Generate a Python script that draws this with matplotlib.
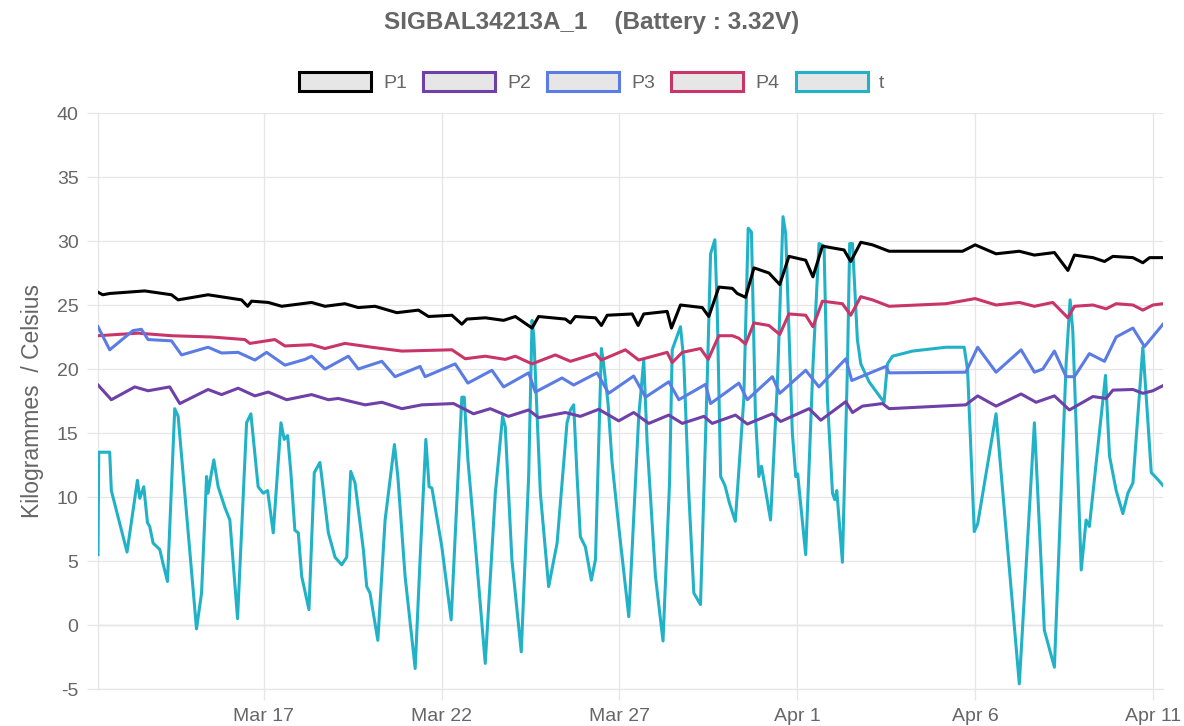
#!/usr/bin/env python3
# Courbes capteur SIGBAL34213A_1 : pressions P1..P4 et temperature t

import matplotlib
matplotlib.use('Agg')
import matplotlib.pyplot as plt
from matplotlib.patches import Patch
import pandas as pd

START = pd.Timestamp('2019-03-12 00:00')

# heures depuis START
p1_h = [8.0, 11.2, 15.9, 39.5, 57.6, 62.1, 82.3, 104.9, 109.0, 111.7, 122.9, 132.0,
        152.2, 161.2, 174.7, 183.7, 195.0, 209.7, 224.3, 231.1, 246.9, 253.6, 257.0,
        269.4, 281.8, 289.7, 301.0, 305.4, 323.5, 326.9, 330.2, 343.8, 347.8, 351.7,
        368.6, 372.6, 376.4, 392.2, 395.1, 401.2, 415.9, 420.3, 427.1, 436.2, 439.5,
        445.1, 450.8, 460.9, 468.2, 474.4, 485.7, 490.6, 497.0, 511.6, 516.1, 522.9,
        530.8, 542.0, 591.6, 600.1, 614.2, 629.9, 640.1, 653.6, 662.7, 667.1, 679.6,
        687.4, 693.1, 706.6, 713.3, 717.8, 726.9]
p1_v = [26.0, 25.8, 25.9, 26.1, 25.8, 25.4, 25.8, 25.4, 24.9, 25.3, 25.2, 24.9,
        25.2, 24.9, 25.1, 24.8, 24.9, 24.4, 24.6, 24.1, 24.2, 23.5, 23.9,
        24.0, 23.8, 24.1, 23.2, 24.1, 23.9, 23.6, 24.1, 24.0, 23.4, 24.2,
        24.3, 23.4, 24.3, 24.5, 23.2, 25.0, 24.8, 24.1, 26.4, 26.3, 25.9,
        25.6, 27.9, 27.5, 26.6, 28.8, 28.5, 27.2, 29.6, 29.3, 28.4, 29.9,
        29.7, 29.2, 29.2, 29.7, 29.0, 29.2, 28.9, 29.1, 27.7, 28.9, 28.7,
        28.4, 28.8, 28.7, 28.3, 28.7, 28.7]

p2_h = [8.0, 17.0, 32.8, 41.8, 56.4, 63.2, 82.3, 91.4, 102.6, 113.9, 122.9, 135.3,
        152.2, 163.5, 170.2, 188.3, 199.6, 213.1, 226.6, 248.0, 261.5, 272.8, 285.1,
        298.7, 305.4, 323.5, 333.6, 346.0, 359.5, 369.6, 379.8, 393.3, 402.4, 417.0,
        422.6, 438.3, 446.3, 463.2, 468.8, 488.0, 495.9, 512.8, 517.3, 524.0, 537.6,
        542.0, 593.8, 601.8, 614.2, 631.1, 641.2, 653.6, 663.7, 679.6, 688.5, 693.1,
        706.6, 713.3, 720.1, 726.9]
p2_v = [18.75, 17.6, 18.6, 18.3, 18.6, 17.3, 18.4, 18.0, 18.5, 17.9, 18.2, 17.6,
        18.0, 17.6, 17.7, 17.2, 17.4, 16.9, 17.2, 17.3, 16.5, 16.9, 16.3,
        16.8, 16.2, 16.6, 16.3, 16.85, 15.95, 16.6, 15.75, 16.4, 15.75, 16.3,
        15.75, 16.4, 15.7, 16.5, 15.9, 16.9, 16.0, 17.45, 16.6, 17.1, 17.3,
        16.9, 17.2, 17.9, 17.1, 18.05, 17.4, 17.9, 16.8, 17.85, 17.7, 18.35,
        18.4, 18.1, 18.3, 18.7]

p3_h = [8.0, 15.9, 31.6, 37.3, 41.8, 57.6, 64.4, 82.3, 91.4, 102.6, 113.9, 121.8,
        134.2, 147.7, 152.2, 161.2, 177.0, 183.7, 199.6, 208.5, 225.4, 228.8, 249.1,
        257.7, 273.9, 281.8, 298.7, 303.2, 321.2, 329.1, 344.9, 352.7, 369.6, 377.6,
        393.3, 400.1, 418.1, 421.5, 440.6, 446.3, 463.2, 468.2, 485.7, 494.7, 512.8,
        516.8, 539.8, 542.0, 593.8, 601.8, 614.2, 631.1, 640.1, 645.8, 653.6, 661.5,
        667.1, 677.2, 687.4, 695.3, 706.6, 714.4, 726.9]
p3_v = [23.3, 21.5, 23.0, 23.1, 22.3, 22.2, 21.1, 21.7, 21.25, 21.3, 20.7, 21.3,
        20.3, 20.75, 21.0, 20.0, 21.0, 20.0, 20.6, 19.4, 20.2, 19.4, 20.4,
        18.9, 19.9, 18.6, 19.7, 18.2, 19.3, 18.75, 19.7, 18.1, 19.45, 17.8,
        19.0, 17.6, 18.8, 17.3, 18.9, 17.6, 19.4, 18.1, 19.9, 18.6, 20.8,
        19.1, 20.2, 19.7, 19.75, 21.7, 19.75, 21.5, 19.75, 20.0, 21.4, 19.4,
        19.4, 21.2, 20.6, 22.5, 23.2, 21.75, 23.5]

p4_h = [8.0, 35.0, 57.6, 84.6, 107.1, 110.5, 127.4, 134.2, 152.2, 161.2, 174.7, 192.8,
        213.1, 246.9, 255.9, 269.4, 282.9, 289.7, 301.0, 316.7, 326.9, 343.8, 347.8,
        364.0, 373.0, 392.2, 395.6, 402.4, 414.7, 419.9, 427.1, 436.2, 440.6, 445.1,
        450.8, 460.9, 468.2, 474.4, 485.7, 490.6, 497.0, 510.5, 516.1, 522.9, 530.8,
        542.0, 580.4, 600.1, 614.2, 629.9, 640.1, 652.5, 662.7, 667.1, 679.6, 688.5,
        695.3, 706.6, 713.3, 720.1, 726.9]
p4_v = [22.6, 22.8, 22.6, 22.5, 22.3, 22.0, 22.3, 21.8, 21.9, 21.6, 22.0, 21.7,
        21.4, 21.5, 20.8, 21.0, 20.75, 21.0, 20.4, 21.1, 20.6, 21.2, 20.7,
        21.5, 20.7, 21.3, 20.5, 21.3, 21.6, 20.75, 22.6, 22.6, 22.4, 21.95,
        23.6, 23.4, 22.7, 24.3, 24.2, 23.3, 25.3, 25.1, 24.2, 25.65, 25.4,
        24.9, 25.1, 25.5, 25.0, 25.2, 24.9, 25.2, 24.0, 24.9, 25.0, 24.7,
        25.1, 25.0, 24.6, 25.0, 25.1]

t_h = [8.0, 8.5, 15.9, 17.0, 27.6, 34.6, 36.2, 38.9, 41.4, 42.9, 45.2, 49.7,
       51.9, 54.9, 59.8, 62.1, 74.5, 77.9, 81.3, 82.3, 84.6, 86.2, 89.1, 93.6,
       97.0, 102.2, 108.3, 111.2, 116.1, 119.5, 122.5, 126.3, 131.5, 133.7, 136.0,
       138.2, 140.9, 143.2, 145.5, 150.4, 154.0, 157.8, 159.0, 163.5, 168.0, 172.5,
       175.9, 178.6, 181.5, 187.1, 189.4, 191.6, 196.9, 201.8, 208.1, 210.4, 215.3,
       222.1, 225.4, 229.3, 231.5, 233.4, 237.8, 240.1, 246.4, 253.6, 255.2, 257.7,
       262.6, 269.4, 276.2, 281.1, 282.9, 287.4, 293.7, 298.7, 301.0, 302.2, 306.6,
       312.2, 317.9, 324.6, 326.9, 329.1, 331.4, 333.6, 337.0, 341.0, 343.8, 347.8,
       349.2, 352.3, 355.0, 359.5, 366.3, 373.0, 376.4, 378.7, 384.3, 389.4, 393.8,
       395.6, 401.2, 403.4, 406.8, 410.2, 414.7, 419.3, 421.5, 424.4, 426.0, 428.3,
       431.2, 434.3, 438.2, 443.9, 446.9, 449.1, 451.8, 454.1, 455.9, 457.5, 462.0,
       466.6, 470.4, 472.2, 476.7, 479.0, 480.3, 485.7, 490.6, 494.7, 498.1, 500.4,
       503.8, 505.3, 506.7, 510.5, 513.9, 515.4, 517.3, 520.6, 522.9, 528.5, 538.6,
       540.9, 544.3, 557.8, 580.4, 592.7, 595.0, 599.5, 601.8, 614.2, 629.9, 640.1,
       646.8, 653.6, 661.5, 664.2, 666.0, 671.7, 675.0, 677.2, 688.1, 690.8, 695.3,
       699.8, 703.2, 706.6, 713.3, 715.6, 719.0, 722.4, 726.9]
t_v = [5.5, 13.5, 13.5, 10.5, 5.7, 11.3, 9.9, 10.8, 8.0, 7.7, 6.4, 5.9,
       4.8, 3.4, 16.9, 16.3, -0.3, 2.5, 11.6, 10.3, 11.9, 12.9, 10.8, 9.2,
       8.2, 0.5, 15.8, 16.5, 10.8, 10.3, 10.5, 7.2, 15.8, 14.5, 14.8,
       11.9, 7.4, 7.2, 3.8, 1.2, 11.9, 12.7, 11.6, 7.2, 5.3, 4.7,
       5.3, 12.0, 11.1, 5.9, 3.0, 2.5, -1.2, 8.2, 14.1, 11.6, 3.8,
       -3.4, 5.1, 14.5, 10.8, 10.7, 7.7, 6.1, 0.4, 17.8, 17.8, 12.9,
       6.4, -3.0, 10.3, 16.3, 15.5, 5.1, -2.1, 11.6, 23.8, 22.5, 10.3,
       3.0, 6.4, 15.8, 16.8, 17.2, 11.6, 6.9, 6.1, 3.5, 5.1, 21.6,
       20.5, 17.3, 12.7, 7.7, 0.65, 16.3, 20.7, 14.2, 3.8, -1.25, 11.1,
       21.5, 23.3, 20.7, 10.3, 2.5, 1.6, 19.4, 29.0, 30.1, 24.6, 11.6,
       10.9, 9.5, 8.1, 17.6, 31.0, 30.7, 16.3, 11.6, 12.4, 11.3, 8.2,
       18.9, 31.9, 30.6, 15.0, 11.6, 11.8, 5.5, 20.2, 29.8, 29.6, 17.6,
       10.3, 9.8, 10.5, 4.9, 20.2, 29.8, 29.8, 22.3, 20.4, 19.0, 17.4,
       20.4, 21.0, 21.4, 21.7, 21.7, 19.9, 7.3, 7.9, 16.5, -4.6, 15.8,
       -0.4, -3.3, 20.4, 25.4, 23.0, 4.3, 8.2, 7.7, 19.5, 13.2, 10.5,
       8.7, 10.3, 11.1, 21.7, 17.8, 11.9, 11.5, 10.9]

series_names = ['P1', 'P2', 'P3', 'P4', 't']
series_colors = ['#000000', '#6f40a8', '#5b7ce4', '#c93568', '#21b2c7']

tick_dates = ['2019-03-17', '2019-03-22', '2019-03-27', '2019-04-01', '2019-04-06', '2019-04-11']
tick_labels = ['Mar 17', 'Mar 22', 'Mar 27', 'Apr 1', 'Apr 6', 'Apr 11']
y_ticks = [-5, 0, 5, 10, 15, 20, 25, 30, 35, 40]

plt.rcParams['font.family'] = ['Liberation Sans', 'DejaVu Sans']
plt.rcParams['axes.unicode_minus'] = False
GRID = '#e6e6e6'
TXT = '#666666'

fig = plt.figure(figsize=(11.84, 7.26), dpi=100)
ax = fig.add_axes([98 / 1184, 37 / 726, 1065 / 1184, 576 / 726])

all_h = [p1_h, p2_h, p3_h, p4_h, t_h]
all_v = [p1_v, p2_v, p3_v, p4_v, t_v]
for i, (hh, vv) in enumerate(zip(all_h, all_v)):
    dates = START + pd.to_timedelta(hh, unit='h')
    # Chart.js dessine le premier jeu de donnees au-dessus
    ax.plot(dates, vv, color=series_colors[i], lw=2.2, zorder=10 - i,
            solid_joinstyle='round')

ax.set_ylim(-5, 40)
ax.set_xlim(START + pd.Timedelta(hours=p1_h[0]), START + pd.Timedelta(hours=p1_h[-1]))
ax.set_yticks(y_ticks)
ax.set_xticks(pd.to_datetime(tick_dates))
ax.set_xticklabels(tick_labels)

ax.grid(True, color=GRID, lw=0.9, zorder=0)
ax.axhline(0, color='#c4c4c4', lw=0.9, zorder=1)
for s in ['top', 'right']:
    ax.spines[s].set_visible(False)
for s in ['left', 'bottom']:
    ax.spines[s].set_color(GRID)
    ax.spines[s].set_linewidth(0.9)
ax.tick_params(axis='both', colors=GRID, length=8, width=0.9, labelcolor=TXT,
               labelsize=14)
ax.tick_params(axis='x', pad=6)
ax.tick_params(axis='y', pad=6)

ax.set_ylabel('Kilogrammes  / Celsius', color=TXT, fontsize=16.5, labelpad=9)

fig.text(0.5, 1 - 22 / 726, 'SIGBAL34213A_1    (Battery : 3.32V)', ha='center',
         va='center', fontsize=17.5, fontweight='bold', color=TXT)

handles = [Patch(facecolor='#e6e6e6', edgecolor=c, linewidth=2.2) for c in series_colors]
fig.legend(handles, series_names, loc='center', bbox_to_anchor=(0.5, 1 - 82 / 726),
           ncol=5, frameon=False, fontsize=14, labelcolor=TXT, handlelength=3.7,
           handleheight=1.15, handletextpad=0.6, columnspacing=0.85)

fig.savefig('out.png', dpi=100)
